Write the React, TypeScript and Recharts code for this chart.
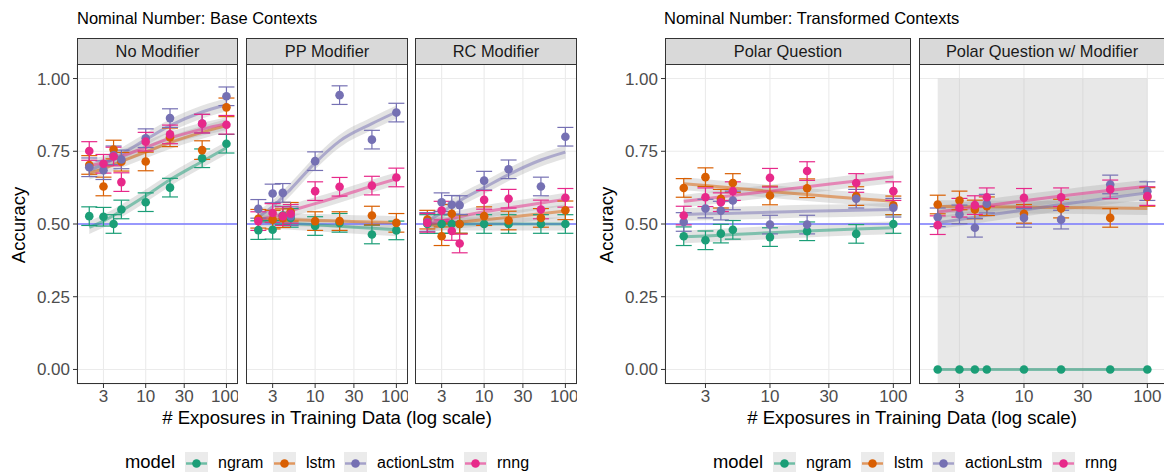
import React from "react"
import {
    ComposedChart,
    Scatter,
    ErrorBar,
    Line,
    Area,
    XAxis,
    YAxis,
    CartesianGrid,
    ReferenceLine,
    ReferenceArea,
} from "recharts"

const EXPOSURES = [2, 3, 4, 5, 10, 20, 50, 100]
const FIT_X = [2, 3, 5, 10, 20, 50, 100]
const X_TICKS = [3, 10, 30, 100]
const Y_TICKS = [0, 0.25, 0.5, 0.75, 1]

const MODELS = ["ngram", "lstm", "actionLstm", "rnng"] as const
type Model = typeof MODELS[number]

const COLORS: Record<Model, string> = {
    ngram: "#1B9E77",
    lstm: "#D95F02",
    actionLstm: "#7570B3",
    rnng: "#E7298A",
}

const ERR = 0.032
const FIT_SE = 0.022

// accuracy per exposure bucket
const noModifierAcc: Record<Model, number[]> = {
    ngram: [0.527, 0.525, 0.5, 0.55, 0.575, 0.625, 0.726, 0.776],
    lstm: [0.703, 0.629, 0.756, 0.714, 0.715, 0.798, 0.754, 0.901],
    actionLstm: [0.695, 0.685, 0.736, 0.722, 0.795, 0.864, 0.845, 0.939],
    rnng: [0.751, 0.707, 0.732, 0.644, 0.783, 0.808, 0.845, 0.841],
}
const ppModifierAcc: Record<Model, number[]> = {
    ngram: [0.479, 0.48, 0.529, 0.521, 0.493, 0.504, 0.464, 0.478],
    lstm: [0.518, 0.515, 0.52, 0.542, 0.51, 0.51, 0.529, 0.504],
    actionLstm: [0.552, 0.605, 0.607, 0.527, 0.716, 0.943, 0.79, 0.883],
    rnng: [0.51, 0.538, 0.527, 0.535, 0.613, 0.628, 0.632, 0.66],
}
const rcModifierAcc: Record<Model, number[]> = {
    ngram: [0.5, 0.5, 0.5, 0.5, 0.5, 0.5, 0.5, 0.5],
    lstm: [0.515, 0.458, 0.535, 0.5, 0.527, 0.512, 0.521, 0.547],
    actionLstm: [0.507, 0.575, 0.566, 0.565, 0.649, 0.688, 0.629, 0.8],
    rnng: [0.504, 0.546, 0.476, 0.433, 0.583, 0.587, 0.55, 0.59],
}
const polarAcc: Record<Model, number[]> = {
    ngram: [0.458, 0.444, 0.467, 0.48, 0.455, 0.475, 0.466, 0.5],
    lstm: [0.624, 0.661, 0.587, 0.641, 0.598, 0.623, 0.596, 0.564],
    actionLstm: [0.507, 0.553, 0.546, 0.581, 0.498, 0.498, 0.587, 0.556],
    rnng: [0.529, 0.592, 0.575, 0.613, 0.659, 0.682, 0.641, 0.613],
}
const polarModAcc: Record<Model, number[]> = {
    ngram: [0, 0, 0, 0, 0, 0, 0, 0],
    lstm: [0.567, 0.581, 0.55, 0.561, 0.535, 0.553, 0.521, 0.593],
    actionLstm: [0.523, 0.533, 0.487, 0.57, 0.521, 0.515, 0.636, 0.613],
    rnng: [0.496, 0.556, 0.565, 0.592, 0.59, 0.592, 0.619, 0.596],
}

// fitted curves, read at FIT_X
const noModifierFit: Record<Model, number[]> = {
    ngram: [0.488, 0.51, 0.545, 0.597, 0.652, 0.715, 0.762],
    lstm: [0.675, 0.69, 0.715, 0.748, 0.78, 0.815, 0.838],
    actionLstm: [0.685, 0.705, 0.74, 0.79, 0.838, 0.885, 0.91],
    rnng: [0.7, 0.712, 0.733, 0.763, 0.795, 0.826, 0.845],
}
const ppModifierFit: Record<Model, number[]> = {
    ngram: [0.51, 0.506, 0.502, 0.497, 0.492, 0.485, 0.48],
    lstm: [0.518, 0.517, 0.515, 0.512, 0.51, 0.507, 0.505],
    actionLstm: [0.525, 0.56, 0.62, 0.71, 0.785, 0.845, 0.885],
    rnng: [0.515, 0.525, 0.545, 0.57, 0.595, 0.63, 0.655],
}
const rcModifierFit: Record<Model, number[]> = {
    ngram: [0.5, 0.5, 0.5, 0.5, 0.5, 0.5, 0.5],
    lstm: [0.495, 0.5, 0.507, 0.515, 0.523, 0.535, 0.545],
    actionLstm: [0.51, 0.54, 0.58, 0.625, 0.67, 0.72, 0.747],
    rnng: [0.5, 0.51, 0.525, 0.542, 0.555, 0.572, 0.585],
}
const polarFit: Record<Model, number[]> = {
    ngram: [0.456, 0.459, 0.464, 0.47, 0.476, 0.483, 0.487],
    lstm: [0.638, 0.632, 0.624, 0.612, 0.601, 0.588, 0.578],
    actionLstm: [0.533, 0.535, 0.537, 0.54, 0.544, 0.547, 0.55],
    rnng: [0.578, 0.587, 0.598, 0.613, 0.628, 0.648, 0.662],
}
const polarModFit: Record<Model, number[]> = {
    ngram: [0, 0, 0, 0, 0, 0, 0],
    lstm: [0.56, 0.56, 0.559, 0.558, 0.557, 0.555, 0.553],
    actionLstm: [0.504, 0.515, 0.53, 0.548, 0.567, 0.59, 0.607],
    rnng: [0.541, 0.551, 0.563, 0.58, 0.596, 0.616, 0.63],
}

const FONT = "'Liberation Sans', Arial, Helvetica, sans-serif"
const PLOT_TOP = 64
const PLOT_H = 320
const X_AXIS_H = 40
const Y_AXIS_W = 77
const X_DOMAIN = [1.41, 139]
const Y_DOMAIN = [-0.05, 1.05]

interface FacetProps {
    left: number
    width: number
    showY: boolean
    label: string
    acc: Record<Model, number[]>
    fit: Record<Model, number[]>
    shade?: boolean
    flat?: boolean
}

function Facet({ left, width, showY, label, acc, fit, shade, flat }: FacetProps) {
    const yw = showY ? Y_AXIS_W : 0
    // ngram sits at 0 with no spread in the shaded facet
    const seFor = (m: Model) => (flat && m === "ngram" ? 0.004 : FIT_SE)
    return (
        <>
            <div
                style={{
                    position: "absolute",
                    left,
                    top: 38,
                    width,
                    height: 27,
                    background: "#D9D9D9",
                    border: "1.3px solid #333",
                    boxSizing: "border-box",
                    textAlign: "center",
                    fontSize: 16.4,
                    lineHeight: "24px",
                    color: "#1A1A1A",
                    fontFamily: FONT,
                }}
            >
                {label}
            </div>
            <div style={{ position: "absolute", left: left - yw, top: PLOT_TOP }}>
                <ComposedChart
                    width={width + yw}
                    height={PLOT_H + X_AXIS_H}
                    margin={{ top: 0, right: 0, bottom: 0, left: 0 }}
                >
                    <CartesianGrid stroke="#EBEBEB" strokeWidth={1.1} />
                    {shade && (
                        <ReferenceArea
                            x1={2}
                            x2={100}
                            y1={-0.05}
                            y2={1}
                            fill="#BEBEBE"
                            fillOpacity={0.36}
                            stroke="none"
                        />
                    )}
                    <XAxis
                        dataKey="x"
                        type="number"
                        scale="log"
                        domain={X_DOMAIN}
                        allowDataOverflow
                        ticks={X_TICKS}
                        height={X_AXIS_H}
                        tickSize={4}
                        tickMargin={2}
                        axisLine={false}
                        tickLine={{ stroke: "#333" }}
                        tick={{ fill: "#4D4D4D", fontSize: 17, fontFamily: FONT }}
                    />
                    <YAxis
                        type="number"
                        domain={Y_DOMAIN}
                        allowDataOverflow
                        ticks={Y_TICKS}
                        width={Y_AXIS_W}
                        hide={!showY}
                        tickSize={4}
                        tickMargin={3}
                        axisLine={false}
                        tickLine={{ stroke: "#333" }}
                        tickFormatter={(v: number) => v.toFixed(2)}
                        tick={{ fill: "#4D4D4D", fontSize: 17, fontFamily: FONT }}
                    />
                    <ReferenceLine y={0.5} stroke="#7878FF" strokeWidth={1.3} />
                    {MODELS.map((m) => (
                        <Area
                            key={`band-${m}`}
                            data={FIT_X.map((x, i) => ({
                                x,
                                band: [fit[m][i] - seFor(m), fit[m][i] + seFor(m)],
                            }))}
                            dataKey="band"
                            type="monotone"
                            stroke="none"
                            fill="#999999"
                            fillOpacity={0.28}
                            isAnimationActive={false}
                        />
                    ))}
                    {MODELS.map((m) => (
                        <Line
                            key={`fit-${m}`}
                            data={FIT_X.map((x, i) => ({ x, fit: fit[m][i] }))}
                            dataKey="fit"
                            type="monotone"
                            stroke={COLORS[m]}
                            strokeOpacity={0.5}
                            strokeWidth={3}
                            dot={false}
                            activeDot={false}
                            isAnimationActive={false}
                        />
                    ))}
                    {MODELS.map((m) => (
                        <Scatter
                            key={`pts-${m}`}
                            data={EXPOSURES.map((x, i) => ({
                                x,
                                y: acc[m][i],
                                err: flat && m === "ngram" ? 0 : ERR,
                            }))}
                            dataKey="y"
                            fill={COLORS[m]}
                            isAnimationActive={false}
                            shape={(p: any) => (
                                <circle cx={p.cx} cy={p.cy} r={4.3} fill={COLORS[m]} />
                            )}
                        >
                            <ErrorBar
                                dataKey="err"
                                direction="y"
                                width={8}
                                stroke={COLORS[m]}
                                strokeWidth={1.2}
                                isAnimationActive={false}
                            />
                        </Scatter>
                    ))}
                </ComposedChart>
            </div>
            <div
                style={{
                    position: "absolute",
                    left,
                    top: PLOT_TOP,
                    width,
                    height: PLOT_H,
                    border: "1.3px solid #333",
                    boxSizing: "border-box",
                    pointerEvents: "none",
                }}
            />
        </>
    )
}

function ModelLegend({ x0 }: { x0: number }) {
    const keyX = [60, 148, 219, 339]
    const labelX = [93, 181, 252, 372]
    return (
        <>
            <div
                style={{
                    position: "absolute",
                    left: x0,
                    top: 452,
                    height: 20,
                    fontSize: 18.4,
                    fontFamily: FONT,
                    color: "#000",
                    lineHeight: "20px",
                }}
            >
                model
            </div>
            {MODELS.map((m, i) => (
                <React.Fragment key={m}>
                    <svg
                        width={23}
                        height={20}
                        style={{ position: "absolute", left: x0 + keyX[i], top: 452 }}
                    >
                        <rect x={0} y={0} width={23} height={20} fill="#EBEBEB" />
                        <line x1={1} x2={22} y1={11.5} y2={11.5} stroke={COLORS[m]} strokeOpacity={0.6} strokeWidth={2.5} />
                        <circle cx={11.5} cy={11.5} r={4.3} fill={COLORS[m]} />
                    </svg>
                    <div
                        style={{
                            position: "absolute",
                            left: x0 + labelX[i],
                            top: 453,
                            height: 19,
                            fontSize: 16,
                            fontFamily: FONT,
                            color: "#000",
                            lineHeight: "19px",
                        }}
                    >
                        {m}
                    </div>
                </React.Fragment>
            ))}
        </>
    )
}

const textStyle: React.CSSProperties = {
    position: "absolute",
    fontFamily: FONT,
    color: "#000",
    whiteSpace: "nowrap",
}

export default function App() {
    return (
        <div
            style={{
                position: "absolute",
                left: 0,
                top: 0,
                width: 1164,
                height: 472,
                background: "#fff",
                overflow: "hidden",
            }}
        >
            <div style={{ ...textStyle, left: 77, top: 9, fontSize: 16.5 }}>
                Nominal Number: Base Contexts
            </div>
            <div style={{ ...textStyle, left: 664, top: 9, fontSize: 16.5 }}>
                Nominal Number: Transformed Contexts
            </div>

            <Facet left={77} width={161} showY label="No Modifier" acc={noModifierAcc} fit={noModifierFit} />
            <Facet left={246} width={162} showY={false} label="PP Modifier" acc={ppModifierAcc} fit={ppModifierFit} />
            <Facet left={415} width={162} showY={false} label="RC Modifier" acc={rcModifierAcc} fit={rcModifierFit} />
            <Facet left={665} width={246} showY label="Polar Question" acc={polarAcc} fit={polarFit} />
            <Facet left={919} width={246} showY={false} label="Polar Question w/ Modifier" acc={polarModAcc} fit={polarModFit} shade flat />

            <div
                style={{
                    ...textStyle,
                    left: 19,
                    top: 225,
                    fontSize: 18.6,
                    transform: "translate(-50%, -50%) rotate(-90deg)",
                }}
            >
                Accuracy
            </div>
            <div
                style={{
                    ...textStyle,
                    left: 607,
                    top: 225,
                    fontSize: 18.6,
                    transform: "translate(-50%, -50%) rotate(-90deg)",
                }}
            >
                Accuracy
            </div>
            <div style={{ ...textStyle, left: 327, top: 418, fontSize: 18.6, transform: "translate(-50%, -50%)" }}>
                # Exposures in Training Data (log scale)
            </div>
            <div style={{ ...textStyle, left: 912, top: 418, fontSize: 18.6, transform: "translate(-50%, -50%)" }}>
                # Exposures in Training Data (log scale)
            </div>

            <ModelLegend x0={125} />
            <ModelLegend x0={713} />
        </div>
    )
}
